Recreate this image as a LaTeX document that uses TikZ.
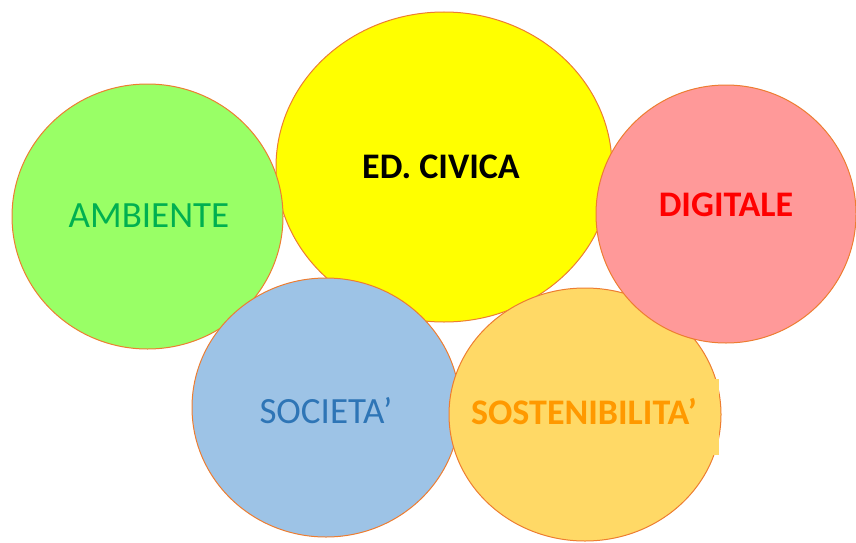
\documentclass[tikz,border=0pt]{standalone}
\usepackage{fontspec}
\setmainfont{Carlito}
\usetikzlibrary{shapes.geometric}
\definecolor{edgeor}{HTML}{ED7D31}
\definecolor{cgreen}{HTML}{99FF66}
\definecolor{cyellow}{HTML}{FFFF00}
\definecolor{cpink}{HTML}{FF9999}
\definecolor{cblue}{HTML}{9DC3E6}
\definecolor{corange}{HTML}{FFD966}
\definecolor{tgreen}{HTML}{00B050}
\definecolor{tblue}{HTML}{2E75B6}
\definecolor{tred}{HTML}{FF0000}
\definecolor{torange}{HTML}{FF9900}
\tikzset{
  bubble/.style={ellipse, draw=edgeor, line width=1pt, inner sep=0pt},
  lbl/.style={inner sep=0pt, font=\fontsize{37}{40}\selectfont},
  blbl/.style={inner sep=0pt, font=\fontsize{36}{40}\selectfont\bfseries}
}
\begin{document}
\begin{tikzpicture}[x=1pt,y=-1pt]
\useasboundingbox (0,0) rectangle (856,543);
\node[bubble, fill=cyellow, minimum width=336pt, minimum height=310pt] (civica) at (444,167) {};
\node[bubble, fill=cgreen, minimum width=271pt, minimum height=265pt] (ambiente) at (147.5,216.5) {};
\node[bubble, fill=cblue, minimum width=268pt, minimum height=259pt] (societa) at (326,407.5) {};
\node[bubble, fill=corange, minimum width=272pt, minimum height=253pt] (sost) at (585,414.5) {};
\node[bubble, fill=cpink, minimum width=260pt, minimum height=258pt] (digitale) at (726,214) {};
\node[fill=corange, inner sep=0pt, minimum width=257pt, minimum height=76pt] (sostbox) at (590.5,417) {};
\node[blbl, text=black] (tcivica) at (441,167) {ED. CIVICA};
\node[lbl, text=tgreen] (tambiente) at (149,216) {AMBIENTE};
\node[blbl, text=tred] (tdigitale) at (726,205) {DIGITALE};
\node[lbl, text=tblue] (tsocieta) at (326,411) {SOCIETA’};
\node[blbl, text=torange] (tsost) at (584,412) {SOSTENIBILITA’};
\end{tikzpicture}
\end{document}
